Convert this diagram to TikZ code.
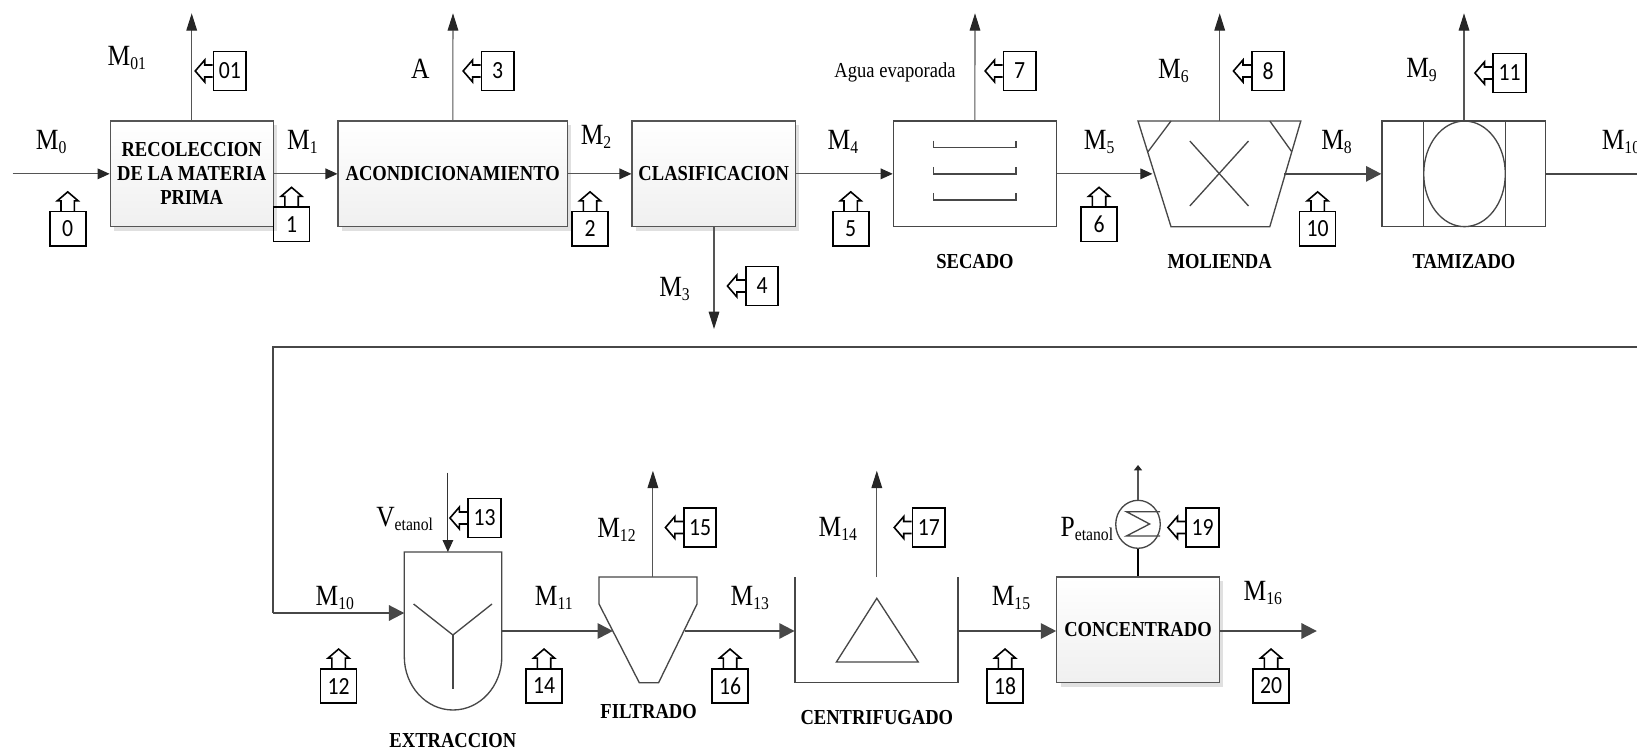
\documentclass[tikz,border=0pt]{standalone}
\usepackage{fontspec}
\setmainfont[FakeStretch=0.87]{Liberation Serif}
\newfontfamily\tagfont[FakeStretch=0.88]{Carlito}
\usepackage{xcolor}
\usepackage{tikz}
\usetikzlibrary{arrows.meta}
\usetikzlibrary{shapes.geometric}
\usetikzlibrary{shadows}
\definecolor{linegray}{HTML}{555555}
\definecolor{bodygray}{HTML}{474747}
\newcommand{\fsub}[1]{\raisebox{-3pt}{\fontsize{13.5}{14}\selectfont #1}}
\tikzset{
	flow/.style={anchor=base west,inner sep=0pt,font=\fontsize{22}{25}\selectfont},
	smallflow/.style={anchor=base west,inner sep=0pt,font=\fontsize{16}{18}\selectfont},
	plate/.style={anchor=base,inner sep=0pt,font=\bfseries\fontsize{16}{18}\selectfont},
	procbox/.style={draw=linegray,line width=0.8pt,align=center,inner sep=0pt,top color=white,bottom color=black!6,
		minimum height=79.3pt,font=\bfseries\fontsize{16}{18}\selectfont,
		drop shadow={shadow xshift=3pt,shadow yshift=-3pt,fill=black!12,opacity=1}},
	equip/.style={draw=bodygray,line width=1pt,inner sep=0pt,minimum height=79.3pt},
	body/.style={draw=bodygray,line width=1pt},
	thin flow/.style={draw=linegray,line width=0.8pt,-{Triangle[length=9pt,width=8pt,color=black!85]}},
	up flow/.style={draw=linegray,line width=0.8pt,-{Triangle[length=13pt,width=8pt,color=black!85]}},
	thick flow/.style={draw=bodygray,line width=1.5pt,-{Triangle[length=11.5pt,width=11.5pt]}},
	tagline/.style={draw=black,line width=1.2pt},
	tagbox/.style={draw=black,line width=1.2pt,inner sep=0pt,font=\tagfont\fontsize{18.5}{18.5}\selectfont},
	tagup/.style={tagbox,minimum width=27pt,minimum height=25.7pt,append after command={
		\pgfextra{\draw[tagline] ([xshift=-5pt]\tikzlastnode.north) -- ++(0,-10) -- ++(-3.8,0) -- ++(10.5,-9) -- ++(10.5,9) -- ++(-3.8,0) -- ++(0,10);}}},
	tagleft/.style={tagbox,minimum width=24.4pt,minimum height=29pt,append after command={
		\pgfextra{\draw[tagline] ([yshift=4.5pt]\tikzlastnode.west) -- ++(-8,0) -- ++(0,-5) -- ++(-9.5,11) -- ++(9.5,11) -- ++(0,-5) -- ++(8,0);}}}
}

\begin{document}
\begin{tikzpicture}[x=0.75pt,y=-0.75pt]
	\useasboundingbox (0,0) rectangle (1637,752);
	% upper line
	\node [procbox,minimum width=122.3pt] (recol) at (191.7,173.85) {RECOLECCION\\DE LA MATERIA\\PRIMA};
	\node [procbox,minimum width=172.1pt] (acond) at (452.75,173.85) {ACONDICIONAMIENTO};
	\node [procbox,minimum width=122.6pt] (clasif) at (713.75,173.85) {CLASIFICACION};
	\node [equip,minimum width=122.2pt] (secado) at (974.85,173.85) {};
	\node [equip,minimum width=122.5pt] (tamiz) at (1463.65,173.85) {};
	\node [equip,minimum width=61.3pt] (criba) at (1464.5,173.85) {};
	\draw [body] (1464.5,173.85) ellipse (40.8 and 52.8);
	\draw [body] (933.5,140.7) -- (933.5,147.7) -- (1016,147.7) -- (1016,140.7);
	\draw [body] (933.5,167) -- (933.5,174) -- (1016,174) -- (1016,167);
	\draw [body] (933.5,193) -- (933.5,200) -- (1016,200) -- (1016,193);
	\draw [body] (1138,121) -- (1300.8,121) -- (1269.8,226.7) -- (1171,226.7) -- cycle;
	\draw [body] (1171,121) -- (1148,151.7);
	\draw [body] (1269.8,121) -- (1291.7,151.7);
	\draw [body] (1189.8,141) -- (1248.5,206);
	\draw [body] (1248.5,141) -- (1189.8,206);

	\coordinate (in0) at (12.6,173.85);
	\coordinate (top1) at (191.7,13.3);
	\coordinate (top2) at (453,13.3);
	\coordinate (low3) at (714,329);
	\coordinate (top4) at (975,13.3);
	\coordinate (moltop) at (1219.7,121);
	\coordinate (top5) at (1219.7,13.3);
	\coordinate (top6) at (1464,13.3);
	\coordinate (molin) at (1152.4,173.85);
	\coordinate (molout) at (1284,173.85);
	\coordinate (outA) at (1637,173.85);
	\coordinate (outB) at (1637,346.7);
	\coordinate (turn) at (273,346.7);

	\draw [thin flow] (in0) -- (recol);
	\draw [thin flow] (recol) -- (acond);
	\draw [thin flow] (acond) -- (clasif);
	\draw [thin flow] (clasif) -- (secado);
	\draw [thin flow] (secado) -- (molin);
	\draw [thick flow] (molout) -- (tamiz);
	\draw [up flow] (recol) -- (top1);
	\draw [up flow] (acond) -- (top2);
	\draw [up flow] (clasif.south -| low3) -- (low3);
	\draw [up flow] (secado) -- (top4);
	\draw [up flow] (moltop) -- (top5);
	\draw [up flow] (tamiz.north -| top6) -- (top6);
	\draw [draw=bodygray,line width=1.5pt] (tamiz) -- (outA);

	\node [flow] (m0) at (35.7,149.3) {M\fsub{0}};
	\node [flow] (m01) at (107.3,65.3) {M\fsub{01}};
	\node [flow] (m1) at (286.8,149.3) {M\fsub{1}};
	\node [flow] (agua) at (410.8,79) {A};
	\node [flow] (m2) at (580.5,145) {M\fsub{2}};
	\node [flow] (m3) at (659,296.5) {M\fsub{3}};
	\node [flow] (m4) at (827.3,150) {M\fsub{4}};
	\node [smallflow] (evap) at (834.2,77.5) {Agua evaporada};
	\node [flow] (m5) at (1083.6,150) {M\fsub{5}};
	\node [flow] (m6) at (1157.8,78.3) {M\fsub{6}};
	\node [flow] (m8) at (1321,150) {M\fsub{8}};
	\node [flow] (m9) at (1406,77.7) {M\fsub{9}};
	\node [flow] (m10a) at (1601.5,150) {M\fsub{10}};
	\node [plate] (psec) at (975,268.7) {SECADO};
	\node [plate] (pmol) at (1219.7,268.7) {MOLIENDA};
	\node [plate] (ptam) at (1464,268.7) {TAMIZADO};

	\node [tagup] (tag0) at (67.7,228.8) {0};
	\node [tagup] (tag1) at (291.5,224.3) {1};
	\node [tagup] (tag2) at (590,228.8) {2};
	\node [tagup] (tag5) at (850.7,228.8) {5};
	\node [tagup] (tag6) at (1099,224.3) {6};
	\node [tagup] (tag10) at (1317.6,228.8) {10};
	\node [tagleft] (tag01) at (229.8,71) {01};
	\node [tagleft] (tag3) at (497.7,71) {3};
	\node [tagleft] (tag4) at (762,286) {4};
	\node [tagleft] (tag7) at (1019.7,71) {7};
	\node [tagleft] (tag8) at (1268,71) {8};
	\node [tagleft] (tag11) at (1509.5,73) {11};

	% lower line
	\node [procbox,minimum width=121.9pt] (conc) at (1138,629.85) {CONCENTRADO};
	\draw [body] (404.3,552) -- (501.8,552) -- (501.8,656.7) arc (0:180:48.75 and 53.3) -- cycle;
	\draw [body] (413.6,604) -- (452.9,635) -- (492,604);
	\draw [body] (452.9,635) -- (452.9,689.3);
	\draw [body] (599,577) -- (697,577) -- (697,604) -- (658.6,682.7) -- (639.3,682.7) -- (599,604) -- cycle;
	\draw [body] (795,577) -- (795,682.7) -- (957.9,682.7) -- (957.9,577);
	\draw [body] (876.8,598.3) -- (918.2,662) -- (836.4,662) -- cycle;
	\node [draw=bodygray,line width=1pt,ellipse,inner sep=0pt,minimum width=33.4pt,minimum height=36pt] (cond) at (1138,524.3) {};
	\draw [body] (1160,511.7) -- (1126.4,511.7) -- (1149.6,524) -- (1126.4,536) -- (1160,536);

	\coordinate (extrin) at (404.3,613);
	\coordinate (extrturn) at (273,613);
	\coordinate (extrtop) at (447.9,552);
	\coordinate (etanol) at (447.9,472.7);
	\coordinate (extrout) at (501.8,631);
	\coordinate (filtin) at (612.9,631);
	\coordinate (filtout) at (685,631);
	\coordinate (filttop) at (652.9,577);
	\coordinate (top7) at (652.9,470.7);
	\coordinate (centin) at (794.6,631);
	\coordinate (centout) at (957.9,631);
	\coordinate (centtop) at (876.8,577);
	\coordinate (top8) at (876.8,470.7);
	\coordinate (top9) at (1138,465);
	\coordinate (end) at (1316.8,631);

	\draw [draw=bodygray,line width=1.5pt] (outB) -- (turn) -- (extrturn);
	\draw [thick flow] (extrturn) -- (extrin);
	\draw [thin flow,draw=black!80] (etanol) -- (extrtop);
	\draw [thick flow] (extrout) -- (filtin);
	\draw [thick flow] (filtout) -- (centin);
	\draw [thick flow] (centout) -- (conc.west |- centout);
	\draw [thick flow] (conc.east |- centout) -- (end);
	\draw [up flow] (filttop) -- (top7);
	\draw [up flow] (centtop) -- (top8);
	\draw [draw=black,line width=1.1pt] (conc) -- (cond);
	\draw [draw=linegray,line width=0.8pt,-{Triangle[length=4pt,width=6pt,color=black!85]}] (cond) -- (top9);

	\node [flow] (vet) at (376,526) {V\fsub{etanol}};
	\node [flow] (m10b) at (315.4,605) {M\fsub{10}};
	\node [flow] (m11) at (534.7,605) {M\fsub{11}};
	\node [flow] (m12) at (597,537) {M\fsub{12}};
	\node [flow] (m13) at (730.4,605) {M\fsub{13}};
	\node [flow] (m14) at (818.3,536.7) {M\fsub{14}};
	\node [flow] (m15) at (991.5,605) {M\fsub{15}};
	\node [flow] (pet) at (1060.4,536) {P\fsub{etanol}};
	\node [flow] (m16) at (1243.3,600) {M\fsub{16}};
	\node [plate] (pext) at (452.9,747.7) {EXTRACCION};
	\node [plate] (pfil) at (648.6,718.3) {FILTRADO};
	\node [plate] (pcen) at (876.8,724.3) {CENTRIFUGADO};

	\node [tagup] (tag12) at (338.6,686) {12};
	\node [tagup] (tag14) at (544,686) {14};
	\node [tagup] (tag16) at (730,686) {16};
	\node [tagup] (tag18) at (1005,686) {18};
	\node [tagup] (tag20) at (1271,686) {20};
	\node [tagleft] (tag13) at (484.5,518) {13};
	\node [tagleft] (tag15) at (700,527.5) {15};
	\node [tagleft] (tag17) at (928.8,527.5) {17};
	\node [tagleft] (tag19) at (1202.5,527.5) {19};
\end{tikzpicture}
\end{document}
